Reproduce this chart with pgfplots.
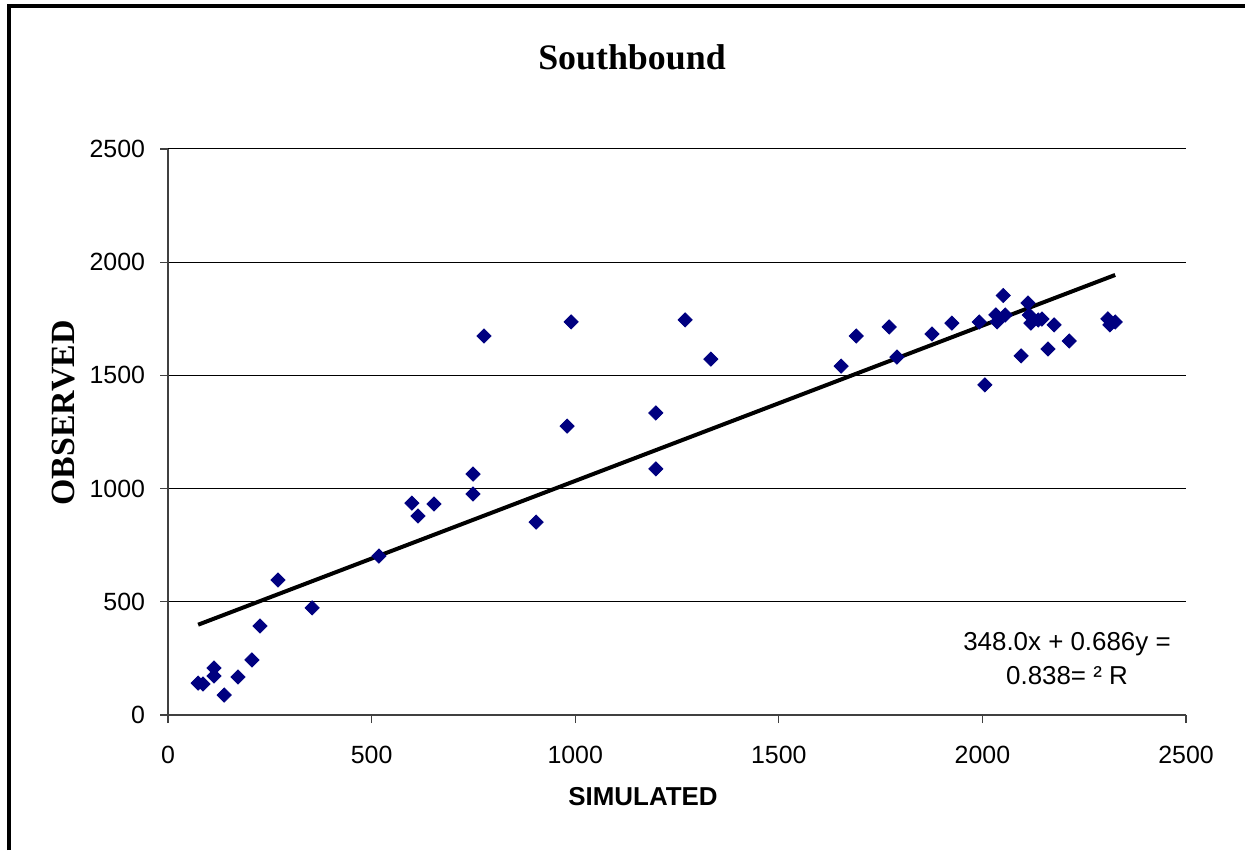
\documentclass[border=0pt]{standalone}
\usepackage{fontspec}
\setmainfont{Liberation Sans}
\newfontfamily\timesfont{Liberation Serif}
\usepackage{pgfplots}
\pgfplotsset{compat=1.18}
\definecolor{navy}{RGB}{0,0,128}
\begin{document}
\begin{tikzpicture}[x=0.5bp,y=0.5bp]
\useasboundingbox (0,0) rectangle (1245,850);
% chart frame, cropped at right and bottom
\draw[line width=1.8bp] (9,0) -- (9,844) -- (1245,844);
\begin{axis}[
    at={(84bp,67.5bp)}, anchor=south west,
    scale only axis, width=509bp, height=283bp,
    xmin=0, xmax=2500, ymin=0, ymax=2500,
    xtick={0,500,...,2500}, ytick={0,500,...,2500},
    axis lines*=left,
    axis line style={black!75, line width=0.6bp},
    ymajorgrids, grid style={black, line width=0.5bp},
    tick align=outside, major tick length=4bp,
    tick style={black!75, line width=0.6bp},
    ticklabel style={font=\fontsize{12.5}{14}\selectfont},
    /pgf/number format/assume math mode=true,
    /pgf/number format/set thousands separator={},
    scaled ticks=false,
    yticklabel style={xshift=-4bp},
    xticklabel style={yshift=-8bp},
    clip=false,
]
\addplot[only marks, mark=square*, mark size=2.5bp,
    mark options={rotate=45, fill=navy, draw=navy}] coordinates {
(74,141) (86,137) (113,208) (113,172) (138,88) (172,168) (206,243)
(226,393) (270,596) (354,473) (518,702) (599,936) (614,879) (653,932)
(749,1064) (749,976) (776,1674) (904,852) (980,1276) (990,1736)
(1198,1087) (1198,1334) (1270,1745) (1333,1572) (1653,1541) (1690,1674)
(1771,1714) (1790,1581) (1876,1683) (1925,1731) (1992,1736) (2006,1458)
(2033,1767) (2036,1736) (2056,1767) (2051,1853) (2095,1586) (2112,1820)
(2115,1767) (2119,1731) (2137,1745) (2146,1749) (2161,1617) (2176,1723)
(2213,1652) (2308,1750) (2313,1723) (2326,1736)
};
% linear trendline
\addplot[black, line width=2bp] coordinates {(74,398.8) (2326,1943.6)};
\end{axis}
\node[font=\timesfont\bfseries\fontsize{18}{20}\selectfont] at (632,793) {Southbound};
\node[font=\timesfont\bfseries\fontsize{17}{19}\selectfont, rotate=90] at (64,437) {OBSERVED};
\node[font=\bfseries\fontsize{13}{15}\selectfont] at (643,53) {SIMULATED};
\node[font=\fontsize{13}{15}\selectfont] at (1067,206) {348.0x + 0.686y =};
\node[font=\fontsize{13}{15}\selectfont] at (1067,174) {0.838= ² R};
\end{tikzpicture}
\end{document}
